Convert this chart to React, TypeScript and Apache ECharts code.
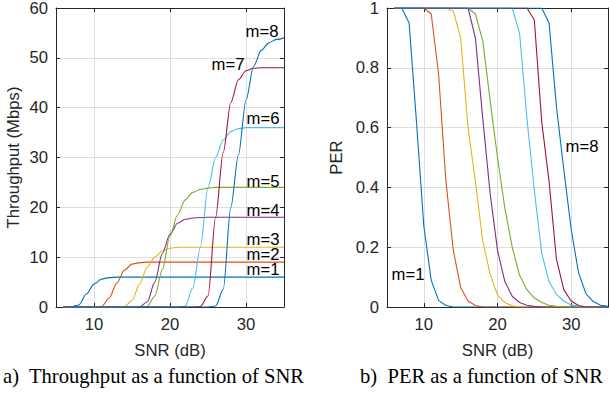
import React, { useEffect, useRef } from 'react';
import * as echarts from 'echarts';

// ---- data (SNR in dB, value) ----
const seriesNames = ['m=1', 'm=2', 'm=3', 'm=4', 'm=5', 'm=6', 'm=7', 'm=8'];

// Throughput (Mbps) vs SNR
const thr1 = [[6, 0], [7, 0.05], [8, 0.4], [9, 2.6], [10, 4.6], [11, 5.6], [12, 5.9], [13, 6], [35, 6]];
const thr2 = [[6, 0], [10, 0], [11, 0.1], [12, 1.8], [13, 4.8], [14, 7.4], [15, 8.6], [16, 8.9], [17, 9], [35, 9]];
const thr3 = [[6, 0], [13, 0], [14, 0.05], [15, 1.3], [16, 4.6], [17, 8.0], [18, 10.0], [19, 11.3], [20, 11.8], [21, 11.95], [22, 12], [35, 12]];
const thr4 = [[6, 0], [15, 0], [16, 0.05], [17, 1.0], [18, 5.0], [19, 10.8], [20, 14.6], [21, 16.8], [22, 17.6], [23, 17.85], [24, 17.95], [25, 18], [35, 18]];
const thr5 = [[6, 0], [16, 0], [17, 0.1], [18, 2.2], [19, 7.5], [20, 14.3], [21, 18.5], [22, 21.5], [23, 23.0], [24, 23.6], [25, 23.85], [26, 24], [35, 24]];
const thr6 = [[6, 0], [21, 0], [22, 0.2], [23, 3.8], [24, 12], [25, 24], [26, 30], [27, 33.5], [28, 35.2], [29, 35.8], [30, 36], [35, 36]];
const thr7 = [[6, 0], [23, 0], [24, 0.1], [25, 2.2], [26, 18], [27, 31], [28, 41], [29, 45.6], [30, 47.4], [31, 47.9], [32, 48], [35, 48]];
const thr8 = [[6, 0], [25, 0], [26, 0.2], [27, 3.5], [28, 20], [29, 30.5], [30, 41.5], [31, 48.3], [32, 51.5], [33, 53], [34, 53.7], [35, 54]];

// PER vs SNR
const per1 = [[6, 1], [7, 1], [8, 0.95], [9, 0.62], [10, 0.27], [11, 0.09], [12, 0.022], [13, 0.005], [14, 0], [35, 0]];
const per2 = [[6, 1], [10, 1], [11, 0.98], [12, 0.78], [13, 0.42], [14, 0.19], [15, 0.065], [16, 0.02], [17, 0.005], [18, 0], [35, 0]];
const per3 = [[6, 1], [13, 1], [14, 0.99], [15, 0.9], [16, 0.6], [17, 0.42], [18, 0.22], [19, 0.11], [20, 0.04], [21, 0.015], [22, 0.004], [23, 0], [35, 0]];
const per4 = [[6, 1], [16, 1], [17, 0.9], [18, 0.63], [19, 0.38], [20, 0.19], [21, 0.085], [22, 0.036], [23, 0.015], [24, 0.006], [25, 0.002], [26, 0], [35, 0]];
const per5 = [[6, 1], [16, 1], [17, 0.98], [18, 0.89], [19, 0.69], [20, 0.5], [21, 0.33], [22, 0.2], [23, 0.106], [24, 0.058], [25, 0.03], [26, 0.015], [27, 0.006], [28, 0.002], [29, 0], [35, 0]];
const per6 = [[6, 1], [22, 1], [23, 0.915], [24, 0.63], [25, 0.39], [26, 0.18], [27, 0.085], [28, 0.042], [29, 0.02], [30, 0.007], [31, 0.002], [32, 0], [35, 0]];
const per7 = [[6, 1], [24, 1], [25, 0.96], [26, 0.62], [27, 0.42], [28, 0.16], [29, 0.058], [30, 0.02], [31, 0.005], [32, 0], [35, 0]];
const per8 = [[6, 1], [26, 1], [27, 0.95], [28, 0.67], [29, 0.46], [30, 0.26], [31, 0.115], [32, 0.045], [33, 0.018], [34, 0.006], [35, 0.002]];

const throughputSeries = [thr1, thr2, thr3, thr4, thr5, thr6, thr7, thr8];
const perSeries = [per1, per2, per3, per4, per5, per6, per7, per8];

const snrMin = 5;
const snrMax = 35;
const thrMax = 60;
const thrStep = 10;
const perMax = 1;
const perStep = 0.2;

const captionA = 'a)  Throughput as a function of SNR';
const captionB = 'b)  PER as a function of SNR';

// ---- styling ----
const colors = ['#0072BD', '#D95319', '#EDB120', '#7E2F8E', '#77AC30', '#4DBEEE', '#A2142F', '#0072BD'];
const SANS = '"Liberation Sans", Arial, Helvetica, sans-serif';
const SERIF = '"Liberation Serif", "Times New Roman", Times, serif';
const AX = '#262626';
const GRIDC = '#dedede';
const FS = 16.7;

function xAxesFor(gridIndex: number) {
  const common = {
    type: 'value',
    gridIndex,
    min: snrMin,
    max: snrMax,
    splitNumber: 3,
    axisLine: { show: true, onZero: false, lineStyle: { color: AX, width: 1 } },
    axisTick: { show: true, inside: true, length: 4, lineStyle: { color: AX, width: 1 } },
  };
  return [
    {
      ...common,
      position: 'bottom',
      axisLabel: {
        color: AX,
        fontSize: FS,
        fontFamily: SANS,
        margin: 9,
        formatter: (v: number) => (v % 10 === 0 ? String(v) : ''),
      },
      splitLine: { show: true, lineStyle: { color: GRIDC, width: 1 } },
      name: 'SNR (dB)',
      nameLocation: 'middle',
      nameGap: 35,
      nameTextStyle: { color: AX, fontSize: FS, fontFamily: SANS },
    },
    {
      ...common,
      position: 'top',
      axisLabel: { show: false },
      splitLine: { show: false },
    },
  ];
}

function yAxesFor(gridIndex: number, max: number, step: number, name: string, gap: number) {
  const common = {
    type: 'value',
    gridIndex,
    min: 0,
    max,
    interval: step,
    axisLine: { show: true, onZero: false, lineStyle: { color: AX, width: 1 } },
    axisTick: { show: true, inside: true, length: 4, lineStyle: { color: AX, width: 1 } },
  };
  return [
    {
      ...common,
      position: 'left',
      axisLabel: { color: AX, fontSize: FS, fontFamily: SANS, margin: 8 },
      splitLine: { show: true, lineStyle: { color: GRIDC, width: 1 } },
      name,
      nameLocation: 'middle',
      nameGap: gap,
      nameTextStyle: { color: AX, fontSize: FS, fontFamily: SANS },
    },
    {
      ...common,
      position: 'right',
      axisLabel: { show: false },
      splitLine: { show: false },
    },
  ];
}

function label(text: string, x: number, y: number) {
  return {
    type: 'text',
    x,
    y,
    z: 100,
    style: {
      text,
      fill: '#000',
      fontSize: FS,
      fontFamily: SANS,
      align: 'center',
      verticalAlign: 'middle',
    },
  };
}

export default function App() {
  const ref = useRef<HTMLDivElement>(null);

  useEffect(() => {
    if (!ref.current) return;
    const chart = echarts.init(ref.current, undefined, { renderer: 'svg' });

    const series: any[] = [];
    throughputSeries.forEach((d, i) => {
      series.push({
        type: 'line',
        name: seriesNames[i],
        xAxisIndex: 0,
        yAxisIndex: 0,
        data: d,
        showSymbol: false,
        smooth: 0.3,
        smoothMonotone: 'x',
        lineStyle: { width: 1.1, color: colors[i] },
        itemStyle: { color: colors[i] },
        emphasis: { disabled: true },
      });
    });
    perSeries.forEach((d, i) => {
      series.push({
        type: 'line',
        name: seriesNames[i],
        xAxisIndex: 2,
        yAxisIndex: 2,
        data: d,
        showSymbol: false,
        lineStyle: { width: 1.1, color: colors[i] },
        itemStyle: { color: colors[i] },
        emphasis: { disabled: true },
      });
    });

    chart.setOption({
      animation: false,
      backgroundColor: '#ffffff',
      grid: [
        { left: 56, top: 8, width: 228, height: 299, outerBoundsMode: 'none', containLabel: false },
        { left: 387, top: 8, width: 221, height: 299, outerBoundsMode: 'none', containLabel: false },
      ],
      xAxis: [...xAxesFor(0), ...xAxesFor(1)],
      yAxis: [
        ...yAxesFor(0, thrMax, thrStep, 'Throughput (Mbps)', 34),
        ...yAxesFor(1, perMax, perStep, 'PER', 42),
      ],
      series,
      graphic: [
        label('m=8', 262, 31),
        label('m=7', 228, 64),
        label('m=6', 263, 118),
        label('m=5', 263, 181),
        label('m=4', 263, 210),
        label('m=3', 263, 239),
        label('m=2', 263, 254),
        label('m=1', 263, 269),
        label('m=8', 582, 146),
        label('m=1', 408, 274),
        {
          type: 'text',
          x: 3,
          y: 376,
          style: { text: captionA, fill: '#000', fontSize: 20.6, fontFamily: SERIF, align: 'left', verticalAlign: 'middle' },
        },
        {
          type: 'text',
          x: 360,
          y: 376,
          style: { text: captionB, fill: '#000', fontSize: 20.6, fontFamily: SERIF, align: 'left', verticalAlign: 'middle' },
        },
      ],
    });

    return () => chart.dispose();
  }, []);

  return (
    <div
      ref={ref}
      style={{ position: 'fixed', left: 0, top: 0, width: 609, height: 396, background: '#fff' }}
    />
  );
}
